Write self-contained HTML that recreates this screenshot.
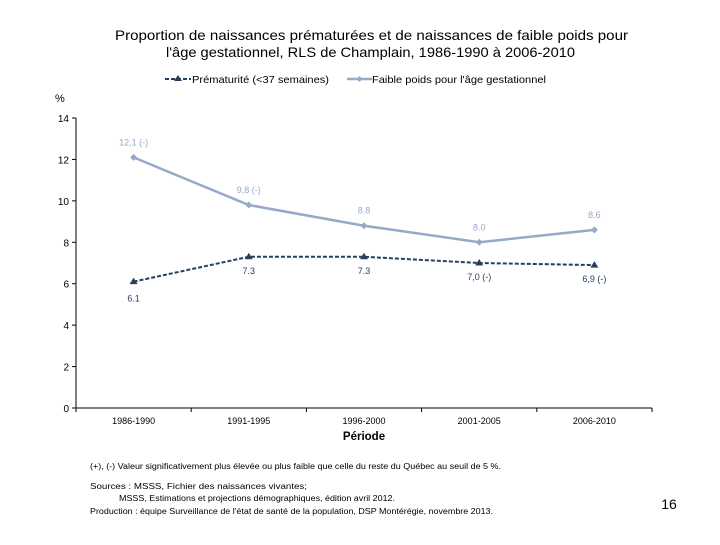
<!DOCTYPE html>
<html><head><meta charset="utf-8"><style>
body{margin:0;background:#fff;width:720px;height:540px;overflow:hidden;font-family:"Liberation Sans",sans-serif}
</style></head><body>
<svg id="c" width="720" height="540" xmlns="http://www.w3.org/2000/svg" font-family="Liberation Sans, sans-serif">
<text x="115" y="40" font-size="14" textLength="513" lengthAdjust="spacingAndGlyphs">Proportion de naissances prématurées et de naissances de faible poids pour</text>
<text x="166" y="57" font-size="14" textLength="409" lengthAdjust="spacingAndGlyphs">l'âge gestationnel, RLS de Champlain, 1986-1990 à 2006-2010</text>
<g font-size="10.5">
<g>
<line x1="165" y1="79" x2="191" y2="79" stroke="#243f60" stroke-width="2" stroke-dasharray="4,2"/>
<path d="M178,75 L182,81 L174,81Z" fill="#243f60"/>
<text x="192" y="83" textLength="137" lengthAdjust="spacingAndGlyphs">Prématurité (&lt;37 semaines)</text></g>
<g>
<line x1="347" y1="79" x2="372" y2="79" stroke="#95a9c9" stroke-width="2.5"/>
<path d="M359.5,76 L362.5,79 L359.5,82 L356.5,79Z" fill="#95a9c9"/>
<text x="372" y="83" textLength="174" lengthAdjust="spacingAndGlyphs">Faible poids pour l'âge gestationnel</text></g>
</g>
<text x="55" y="102" font-size="11">%</text>
<g id="axes"></g>
<g id="marks"></g>
<text x="364" y="440" text-anchor="middle" font-size="11.5" font-weight="bold">Période</text>
<g font-size="8" fill="#000">
<text x="90" y="469" textLength="411" lengthAdjust="spacingAndGlyphs">(+), (-) Valeur significativement plus élevée ou plus faible que celle du reste du Québec au seuil de 5 %.</text>
<text x="90" y="489" textLength="217" lengthAdjust="spacingAndGlyphs">Sources : MSSS, Fichier des naissances vivantes;</text>
<text x="119" y="501" textLength="276" lengthAdjust="spacingAndGlyphs">MSSS, Estimations et projections démographiques, édition avril 2012.</text>
<text x="90" y="514" textLength="403" lengthAdjust="spacingAndGlyphs">Production : équipe Surveillance de l'état de santé de la population, DSP Montérégie, novembre 2013.</text>
</g>
<text x="669" y="509" text-anchor="middle" font-size="14">16</text>
</svg>
<script>
const categories=["1986-1990","1991-1995","1996-2000","2001-2005","2006-2010"];
const prematurite=[6.1,7.3,7.3,7.0,6.9];
const prematuriteLabels=["6.1","7.3","7.3","7,0 (-)","6,9 (-)"];
const faiblePoids=[12.1,9.8,8.8,8.0,8.6];
const faiblePoidsLabels=["12,1 (-)","9,8 (-)","8.8","8.0","8.6"];
const yTicks=[0,2,4,6,8,10,12,14];
const NS="http://www.w3.org/2000/svg";
const x0=76,x1=652,y0=408,y1=118,yMax=14;
const bw=(x1-x0)/categories.length;
const X=i=>x0+bw*(i+0.5);
const Y=v=>y0-(v/yMax)*(y0-y1);
function mk(t,a,p){const e=document.createElementNS(NS,t);for(const k in a)e.setAttribute(k,a[k]);p.appendChild(e);return e;}
const ax=document.getElementById('axes'),mg=document.getElementById('marks');
const ya=mk('line',{x1:x0,y1:y1,x2:x0,y2:y0,stroke:'#000'},ax);


const xa=mk('line',{x1:x0,y1:y0,x2:x1,y2:y0,stroke:'#000'},ax);


yTicks.forEach(v=>{
 mk('line',{x1:x0-4,y1:Y(v),x2:x0,y2:Y(v),stroke:'#000'},ax);
 const t=mk('text',{x:x0-7,y:Y(v)+4,'text-anchor':'end','font-size':'10'},ax);t.textContent=v;
 
 
});
for(let i=0;i<=categories.length;i++)mk('line',{x1:x0+bw*i,y1:y0,x2:x0+bw*i,y2:y0+4,stroke:'#000'},ax);
categories.forEach((c,i)=>{const t=mk('text',{x:X(i),y:y0+16,'text-anchor':'middle','font-size':'9'},ax);t.textContent=c;
 
 });
const fp=mk('polyline',{points:faiblePoids.map((v,i)=>X(i)+','+Y(v)).join(' '),fill:'none',stroke:'#95a9c9','stroke-width':2.5},mg);


faiblePoids.forEach((v,i)=>{
 const p=mk('path',{d:`M${X(i)},${Y(v)-3.5}l3.5,3.5l-3.5,3.5l-3.5,-3.5z`,fill:'#95a9c9'},mg);
 
 
 const t=mk('text',{x:X(i),y:Y(v)-12,'text-anchor':'middle','font-size':'9',fill:'#95a9c9'},mg);t.textContent=faiblePoidsLabels[i];
 
 
});
const pm=mk('polyline',{points:prematurite.map((v,i)=>X(i)+','+Y(v)).join(' '),fill:'none',stroke:'#243f60','stroke-width':2,'stroke-dasharray':'4,2'},mg);


prematurite.forEach((v,i)=>{
 const p=mk('path',{d:`M${X(i)},${Y(v)-4}l4,6.5l-8,0z`,fill:'#243f60'},mg);
 
 
 const t=mk('text',{x:X(i),y:i==0?Y(v)+20:Y(v)+17,'text-anchor':'middle','font-size':'9',fill:'#243f60'},mg);t.textContent=prematuriteLabels[i];
 
 
});
</script>
</body></html>
